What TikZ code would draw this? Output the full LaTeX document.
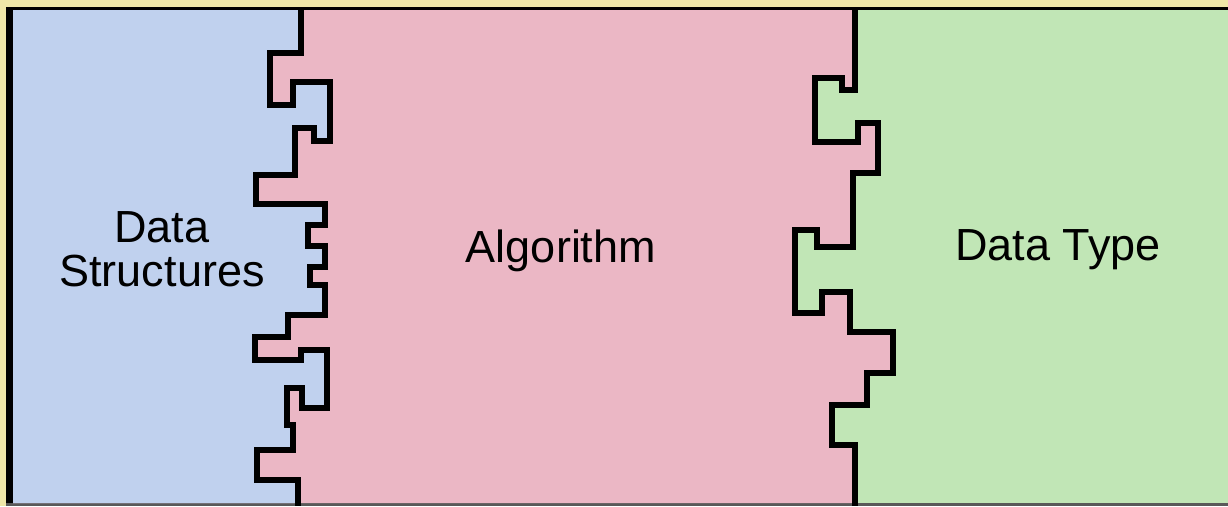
\documentclass[tikz,border=0pt]{standalone}
\usepackage{fontspec}
\setmainfont{Liberation Sans}
\definecolor{bgyellow}{RGB}{239,231,168}
\definecolor{dsblue}{RGB}{192,209,238}
\definecolor{algpink}{RGB}{235,183,197}
\definecolor{dtgreen}{RGB}{193,230,182}
\def\leftedge{(301,10) -- (301,53) -- (270,53) -- (270,105) -- (293,105) -- (293,82) -- (330,82) -- (330,141) -- (314,141) -- (314,128) -- (295,128) -- (295,175) -- (256,175) -- (256,204) -- (325,204) -- (325,225) -- (308,225) -- (308,246) -- (325,246) -- (325,267) -- (310,267) -- (310,285) -- (325,285) -- (325,315) -- (288,315) -- (288,337) -- (255,337) -- (255,360) -- (301,360) -- (301,350) -- (327,350) -- (327,408) -- (302,408) -- (302,388) -- (287,388) -- (287,425) -- (293,425) -- (293,450) -- (257,450) -- (257,480) -- (298,480) -- (298,503)}
\def\rightedge{(855,10) -- (855,90) -- (842,90) -- (842,78) -- (815,78) -- (815,142) -- (858,142) -- (858,123) -- (878,123) -- (878,173) -- (853,173) -- (853,247) -- (817,247) -- (817,230) -- (795,230) -- (795,313) -- (822,313) -- (822,292) -- (850,292) -- (850,332) -- (893,332) -- (893,373) -- (867,373) -- (867,405) -- (832,405) -- (832,445) -- (855,445) -- (855,503)}
\tikzset{
  edgeline/.style={draw=black, line width=6.5pt, line join=miter, line cap=rect},
  lbl/.style={inner sep=0pt, font=\fontsize{45}{44}\selectfont, text=black, align=center}
}
\begin{document}
\begin{tikzpicture}[x=1pt,y=-1pt]
\useasboundingbox (0,0) rectangle (1228,506);
\fill[bgyellow] (0,0) rectangle (1228,506);
\fill[black] (6,7) rectangle (1228,506);
\fill[black!65] (6,503) rectangle (1228,506);
\fill[dtgreen] (13,10) rectangle (1228,503);
\fill[algpink] (13,10) -- \rightedge -- (13,503) -- cycle;
\fill[dsblue] (13,10) -- \leftedge -- (13,503) -- cycle;
\draw[edgeline] \leftedge;
\draw[edgeline] \rightedge;
\node[lbl] (ds) at (162,249) {Data\\Structures};
\node[lbl, anchor=base] (alg) at (561,262) {Algorithm};
\node[lbl, anchor=base] (dt) at (1058,260) {Data Type};
\end{tikzpicture}
\end{document}
